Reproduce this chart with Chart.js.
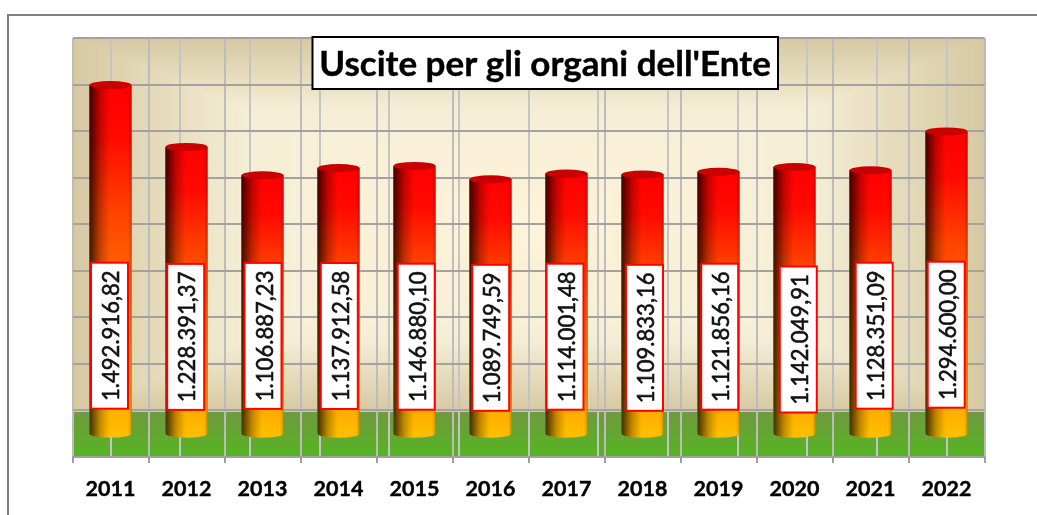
<!DOCTYPE html>
<html>
<head>
<meta charset="utf-8">
<title>Uscite per gli organi dell'Ente</title>
<script src="https://cdn.jsdelivr.net/npm/chart.js@4"></script>
<style>
  html, body { margin: 0; padding: 0; background: #fff; overflow: hidden; }
  #cornice { position: absolute; left: 7px; top: 14px; right: 0; bottom: 0; border-top: 2px solid #808080; border-left: 2px solid #808080; }
  #grafico { position: absolute; left: 0; top: 0; }
</style>
</head>
<body>
<div id="cornice"></div>
<canvas id="grafico" width="1037" height="515"></canvas>
<script>
const titolo = "Uscite per gli organi dell'Ente";
const anni = ["2011", "2012", "2013", "2014", "2015", "2016", "2017", "2018", "2019", "2020", "2021", "2022"];
const uscite = [1492916.82, 1228391.37, 1106887.23, 1137912.58, 1146880.10, 1089749.59, 1114001.48, 1109833.16, 1121856.16, 1142049.91, 1128351.09, 1294600.00];

// le etichette nel grafico originale sono spostate a mano
const spostaX = [-1, -0.8, 0.5, 0.8, 1.7, 0.2, -1.5, 2, 1.2, 3.8, 3.7, -0.3];
const spostaY = [0, 1.2, 0.2, 0.3, 1, 2.1, 1, 2.1, 1, 3.8, 0, -1];

const rossoGiallo = [[0, "#ff0000"], [0.15, "#ff0a00"], [0.35, "#ff4000"], [1, "#ffc000"]];
const ombra = [[0, 0.75], [0.25, 0.25], [0.45, 0.03], [0.5, 0], [0.92, 0], [1, 0.2]];

function formatta(v) {
  return v.toLocaleString("it-IT", { minimumFractionDigits: 2, maximumFractionDigits: 2 });
}

// parete di fondo con sfumatura dal centro, e pavimento verde
const sfondo = {
  id: "sfondo",
  beforeDraw(chart) {
    const { ctx, chartArea: a, scales } = chart;
    const base = scales.pareti.getPixelForValue(0);
    const w = a.right - a.left, h = base - a.top;
    const passi = 140;
    for (let i = 0; i <= passi; i++) {
      const t = i / passi;
      let c;
      if (t < 0.38) {
        const k = t / 0.38;
        c = [214 + 31 * k, 201 + 37 * k, 162 + 52 * k];
      } else {
        const k = (t - 0.38) / 0.62;
        c = [245 + 10 * k, 238 + 5 * k, 214 + 3 * k];
      }
      ctx.fillStyle = `rgb(${c[0]},${c[1]},${c[2]})`;
      ctx.fillRect(a.left + t * w / 2, a.top + t * h / 2, w * (1 - t), h * (1 - t));
    }
    const g = ctx.createLinearGradient(0, base, 0, a.bottom);
    g.addColorStop(0, "#71993f");
    g.addColorStop(1, "#55b522");
    ctx.fillStyle = g;
    ctx.fillRect(a.left, base, w, a.bottom - base);
  }
};

// cilindri: sulle barre di Chart.js va il corpo sfumato, l'ombra e le ellissi
const cilindri = {
  id: "cilindri",
  afterDatasetsDraw(chart) {
    const ctx = chart.ctx;
    const meta = chart.getDatasetMeta(0);
    meta.data.forEach(bar => {
      const sx = bar.x - bar.width / 2, dx = bar.x + bar.width / 2, rx = bar.width / 2, ry = 4;
      const corpo = new Path2D();
      corpo.moveTo(sx, bar.y);
      corpo.lineTo(sx, bar.base);
      corpo.ellipse(bar.x, bar.base, rx, ry, 0, Math.PI, 0, true);
      corpo.lineTo(dx, bar.y);
      corpo.closePath();
      const v = ctx.createLinearGradient(0, bar.y, 0, bar.base + ry);
      rossoGiallo.forEach(s => v.addColorStop(s[0], s[1]));
      ctx.fillStyle = v;
      ctx.fill(corpo);
      const g = ctx.createLinearGradient(sx, 0, dx, 0);
      ombra.forEach(s => g.addColorStop(s[0], `rgba(0,0,0,${s[1]})`));
      ctx.fillStyle = g;
      ctx.fill(corpo);
      ctx.fillStyle = "#c80000";
      ctx.beginPath();
      ctx.ellipse(bar.x, bar.y, rx, ry, 0, 0, Math.PI * 2);
      ctx.fill();
    });
  }
};

// etichette ruotate e riquadro del titolo
const testi = {
  id: "testi",
  afterDraw(chart) {
    const ctx = chart.ctx;
    const meta = chart.getDatasetMeta(0);
    meta.data.forEach((bar, i) => {
      const cx = bar.x + spostaX[i], cy = bar.base - 98 + spostaY[i];
      ctx.save();
      ctx.fillStyle = "#fff";
      ctx.strokeStyle = "#ff0000";
      ctx.lineWidth = 2;
      ctx.fillRect(cx - 18.5, cy - 73, 37, 146);
      ctx.strokeRect(cx - 18.5, cy - 73, 37, 146);
      ctx.translate(cx + 1, cy);
      ctx.rotate(-Math.PI / 2);
      ctx.scale(0.92, 1);
      ctx.fillStyle = "#111";
      ctx.strokeStyle = "#111";
      ctx.lineWidth = 0.6;
      ctx.font = "24px Lato";
      ctx.textAlign = "center";
      ctx.textBaseline = "middle";
      ctx.fillText(formatta(uscite[i]), 0, 1);
      ctx.strokeText(formatta(uscite[i]), 0, 1);
      ctx.restore();
    });
    ctx.fillStyle = "#fff";
    ctx.strokeStyle = "#000";
    ctx.lineWidth = 2;
    ctx.fillRect(312.5, 37, 465.5, 52);
    ctx.strokeRect(312.5, 37, 465.5, 52);
    ctx.fillStyle = "#000";
    ctx.strokeStyle = "#000";
    ctx.lineWidth = 0.4;
    ctx.font = "bold 35px Lato";
    ctx.textAlign = "center";
    ctx.textBaseline = "alphabetic";
    ctx.fillText(titolo, 545, 75.5);
    ctx.strokeText(titolo, 545, 75.5);
  }
};

new Chart(document.getElementById("grafico"), {
  type: "bar",
  data: {
    labels: anni,
    datasets: [{
      data: uscite,
      backgroundColor: "#ff3000",
      borderWidth: 0,
      categoryPercentage: 1,
      barPercentage: 0.5526
    }]
  },
  options: {
    responsive: false,
    animation: false,
    layout: { padding: { left: 72.5, top: 38, right: 52.5, bottom: 0 } },
    plugins: { legend: { display: false }, tooltip: { enabled: false }, title: { display: false } },
    scales: {
      x: {
        offset: true,
        afterFit(s) { s.height = 58; },
        grid: { color: "#bcbcbc", lineWidth: 2, tickLength: 6, tickColor: "#a0a0a0" },
        border: { color: "#a0a0a0", width: 2 },
        ticks: { color: "#000", textStrokeColor: "#000", textStrokeWidth: 0.4, font: { family: "Lato", weight: "bold", size: 21.5 }, padding: 13, maxRotation: 0, autoSkip: false }
      },
      centri: {
        type: "linear",
        position: "top",
        min: 0,
        max: 12,
        afterBuildTicks(s) { s.ticks = anni.map((a, i) => ({ value: i + 0.5 })); },
        afterFit(s) { s.height = 0; },
        grid: { color: "#c4c4c4", lineWidth: 2, drawTicks: false },
        border: { display: false },
        ticks: { display: false }
      },
      y: {
        display: false,
        min: -99800,
        max: 1694700
      },
      pareti: {
        position: "left",
        min: -192300,
        max: 1600000,
        afterBuildTicks(s) { s.ticks = s.ticks.filter(t => t.value > 0); },
        afterFit(s) { s.width = 0; },
        grid: { color: "#a2a2a2", lineWidth: 2, drawTicks: false },
        border: { display: false },
        ticks: { display: false, stepSize: 200000 }
      }
    }
  },
  plugins: [sfondo, cilindri, testi]
});
</script>
</body>
</html>
